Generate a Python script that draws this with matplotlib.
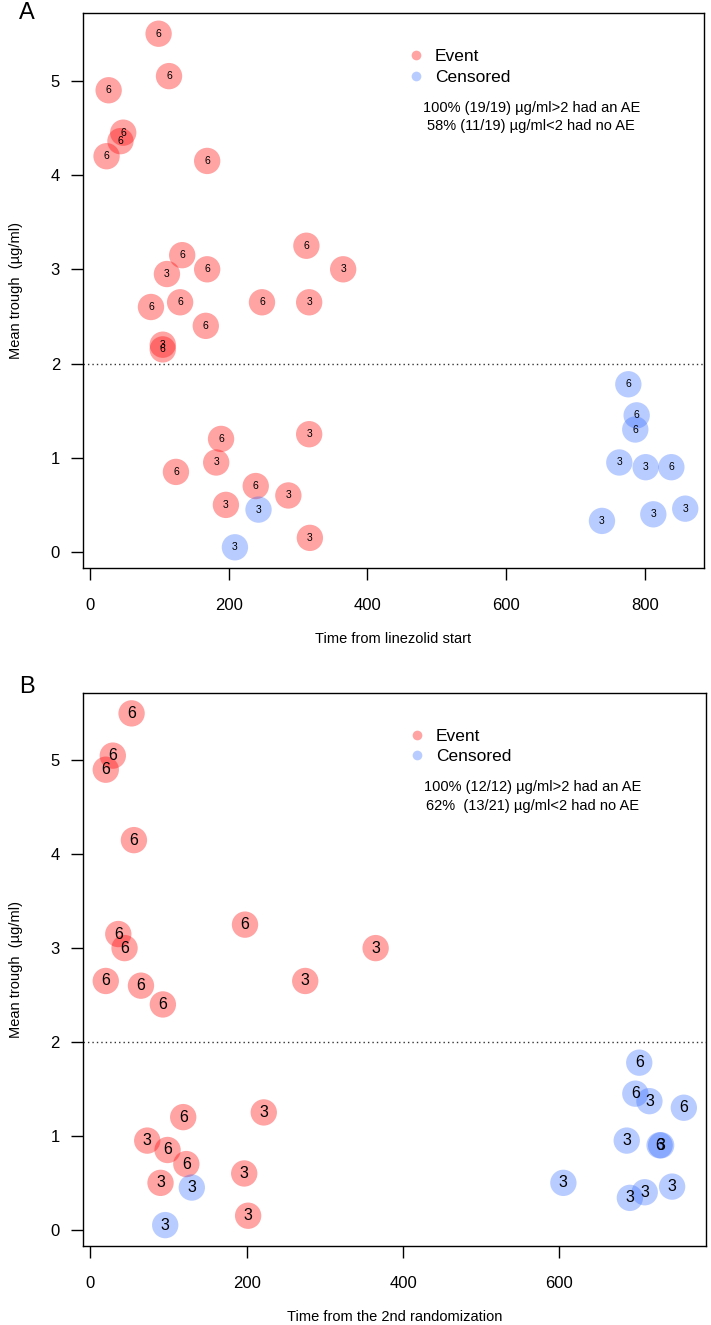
import matplotlib
matplotlib.use("Agg")
import matplotlib.pyplot as plt
from matplotlib.lines import Line2D

plt.rcParams['font.family'] = ['Liberation Sans', 'DejaVu Sans']

# panel A: time from linezolid start
a_time = [99, 114, 27, 48, 44, 24, 169, 312, 133, 111, 169, 365, 88, 130, 248, 316,
          167, 105, 105, 189, 316, 182, 124, 239, 286, 196, 243, 317, 209,
          776, 788, 786, 763, 801, 838, 858, 812, 738]
a_trough = [5.5, 5.05, 4.9, 4.45, 4.36, 4.2, 4.15, 3.25, 3.15, 2.95, 3.0, 3.0, 2.6, 2.65, 2.65, 2.65,
            2.4, 2.2, 2.15, 1.2, 1.25, 0.95, 0.85, 0.7, 0.6, 0.5, 0.45, 0.15, 0.05,
            1.78, 1.45, 1.3, 0.95, 0.9, 0.9, 0.46, 0.4, 0.33]
a_dose = [6, 6, 6, 6, 6, 6, 6, 6, 6, 3, 6, 3, 6, 6, 6, 3,
          6, 3, 6, 6, 3, 3, 6, 6, 3, 3, 3, 3, 3,
          6, 6, 6, 3, 3, 6, 3, 3, 3]
a_event = [1, 1, 1, 1, 1, 1, 1, 1, 1, 1, 1, 1, 1, 1, 1, 1,
           1, 1, 1, 1, 1, 1, 1, 1, 1, 1, 0, 1, 0,
           0, 0, 0, 0, 0, 0, 0, 0, 0]

# panel B: time from the 2nd randomization
b_time = [53, 29, 20, 56, 198, 36, 44, 20, 275, 65, 93, 365,
          119, 222, 73, 99, 123, 197, 90, 130, 202, 96,
          702, 697, 715, 759, 686, 728, 730, 744, 709, 690, 605]
b_trough = [5.5, 5.05, 4.9, 4.15, 3.25, 3.15, 3.0, 2.65, 2.65, 2.6, 2.4, 3.0,
            1.2, 1.25, 0.95, 0.85, 0.7, 0.6, 0.5, 0.45, 0.15, 0.05,
            1.78, 1.45, 1.37, 1.3, 0.95, 0.9, 0.9, 0.46, 0.4, 0.34, 0.5]
b_dose = [6, 6, 6, 6, 6, 6, 6, 6, 3, 6, 6, 3,
          6, 3, 3, 6, 6, 3, 3, 3, 3, 3,
          6, 6, 3, 6, 3, 6, 3, 3, 3, 3, 3]
b_event = [1, 1, 1, 1, 1, 1, 1, 1, 1, 1, 1, 1,
           1, 1, 1, 1, 1, 1, 1, 0, 1, 0,
           0, 0, 0, 0, 0, 0, 0, 0, 0, 0, 0]

a_notes = ["100% (19/19) \u00b5g/ml>2 had an AE", "58% (11/19) \u00b5g/ml<2 had no AE"]
b_notes = ["100% (12/12) \u00b5g/ml>2 had an AE", "62%  (13/21) \u00b5g/ml<2 had no AE"]

red = (1.0, 0.0, 0.0, 0.36)
blue = (0.1, 0.35, 1.0, 0.3)


def panel(ax, time, trough, dose, event, xlim, xticks, xlabel, notes, letter, lblsize, lety):
    cols = [red if e == 1 else blue for e in event]
    ax.scatter(time, trough, s=360, c=cols, edgecolors='none', zorder=2)
    for t, y, d in zip(time, trough, dose):
        ax.text(t, y, str(d), ha='center', va='center', fontsize=lblsize, zorder=3)
    ax.axhline(2, color='#333333', linestyle=(0, (1, 2.2)), linewidth=1, zorder=1)
    ax.set_xlim(xlim)
    ax.set_ylim(-0.17, 5.72)
    ax.set_xticks(xticks)
    ax.set_yticks([0, 1, 2, 3, 4, 5])
    ax.tick_params(direction='out', length=8.5, width=1, labelsize=12)
    ax.tick_params(axis='x', pad=13)
    ax.tick_params(axis='y', pad=8)
    ax.set_xlabel(xlabel, fontsize=10.5, labelpad=14)
    ax.set_ylabel("Mean trough  (\u00b5g/ml)", fontsize=10.5, labelpad=20)
    for s in ax.spines.values():
        s.set_linewidth(1)
    handles = [Line2D([], [], marker='o', linestyle='none', markersize=7,
                      markerfacecolor=red, markeredgecolor='none', label='Event'),
               Line2D([], [], marker='o', linestyle='none', markersize=7,
                      markerfacecolor=blue, markeredgecolor='none', label='Censored')]
    ax.legend(handles=handles, loc='center left', bbox_to_anchor=(0.525, 0.903),
              frameon=False, fontsize=12.5, handlelength=0.8, handletextpad=0.7,
              labelspacing=0.3, borderpad=0, borderaxespad=0)
    ax.text(0.722, 0.829, notes[0], transform=ax.transAxes, ha='center', va='center', fontsize=10.5)
    ax.text(0.722, 0.796, notes[1], transform=ax.transAxes, ha='center', va='center', fontsize=10.5)
    ax.text(-0.09, lety, letter, transform=ax.transAxes, ha='center', va='center', fontsize=17)


fig = plt.figure(figsize=(7.11, 13.25), dpi=100)
ax1 = fig.add_axes([0.1167, 0.5713, 0.8734, 0.4189])
ax2 = fig.add_axes([0.1163, 0.0598, 0.8763, 0.4174])

panel(ax1, a_time, a_trough, a_dose, a_event, (-10, 885), [0, 200, 400, 600, 800],
      "Time from linezolid start", a_notes, "A", 7.5, 1.0)
panel(ax2, b_time, b_trough, b_dose, b_event, (-9.5, 787), [0, 200, 400, 600],
      "Time from the 2nd randomization", b_notes, "B", 11.5, 1.011)

fig.savefig("out.png", dpi=100)
